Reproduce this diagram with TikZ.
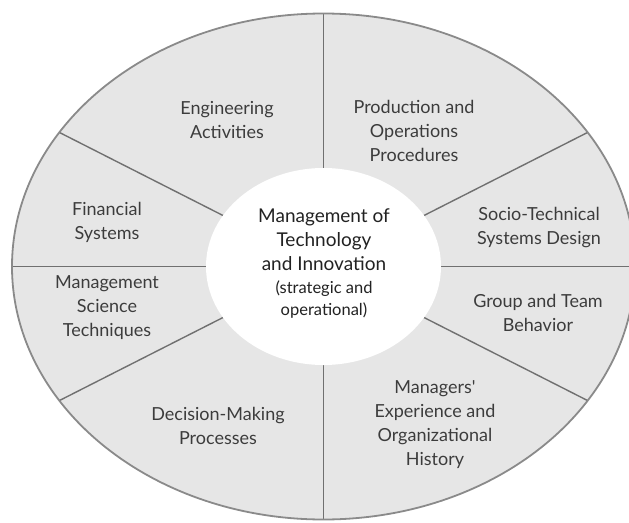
\documentclass[tikz,border=0pt]{standalone}
\usepackage{fontspec}
\setmainfont{Lato}
\definecolor{ringfill}{HTML}{E6E6E6}
\definecolor{ringedge}{HTML}{8A8A8A}
\definecolor{spoke}{HTML}{707070}
\definecolor{labeltext}{HTML}{3C3C3C}
\definecolor{coretext}{HTML}{222222}
\begin{document}
\begin{tikzpicture}[x=1pt,y=-1pt,
  label/.style={align=center, text=labeltext, inner sep=0pt,
    font=\fontsize{18}{24}\selectfont},
  corelabel/.style={align=center, text=coretext, inner sep=0pt,
    font=\fontsize{19}{24}\selectfont},
  spokeline/.style={draw=spoke, line width=1.4pt}]
\useasboundingbox (0,0) rectangle (629,522);
\clip (0,0) rectangle (629,522);

% centre of the wheel
\coordinate (c) at (323.5,266.5);

% outer ring
\fill[ringfill] (c) ellipse [x radius=311.5pt, y radius=253pt];

% ends of the eight spokes on the outer rim
\coordinate (top)   at (323.5,13.5);
\coordinate (bot)   at (323.5,519.5);
\coordinate (left)  at (12,266.5);
\coordinate (right) at (640,266.5);
\coordinate (ul) at (59.3,132.4);
\coordinate (ur) at (587.7,132.4);
\coordinate (ll) at (59.3,400.6);
\coordinate (lr) at (587.7,400.6);

\foreach \p in {top,bot,left,right,ul,ur,ll,lr}
  \draw[spokeline] (c) -- (\p);

\draw[ringedge, line width=1.8pt] (c) ellipse [x radius=311.5pt, y radius=253pt];

% hub
\fill[white] (c) ellipse [x radius=117.5pt, y radius=98.5pt];

% hub text
\node[corelabel] (hub) at (324,264) {Management of\\Technology\\and Innovation\\[-1pt]
  {\fontsize{16.5}{22}\selectfont (strategic and}\\[-2pt]
  {\fontsize{16.5}{22}\selectfont operational)}};

% segment labels
\node[label] (eng)  at (227,120) {Engineering\\Activities};
\node[label] (prod) at (414,131) {Production and\\Operations\\Procedures};
\node[label] (fin)  at (107,222) {Financial\\Systems};
\node[label] (mst)  at (107,308) {Management\\Science\\Techniques};
\node[label] (stsd) at (539,228) {Socio-Technical\\Systems Design};
\node[label] (grp)  at (538,313) {Group and Team\\Behavior};
\node[label] (dmp)  at (218,426) {Decision-Making\\Processes};
\node[label] (mgr)  at (435,425) {Managers\textquotesingle\\Experience and\\Organizational\\History};
\end{tikzpicture}
\end{document}
